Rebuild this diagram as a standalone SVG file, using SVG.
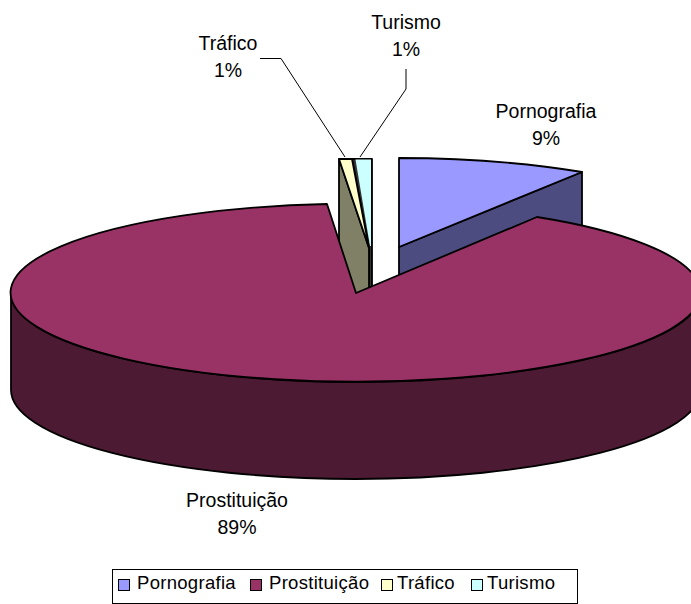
<svg xmlns="http://www.w3.org/2000/svg" width="691" height="604" viewBox="0 0 691 604">
  <style>
    .edge { stroke: #000; stroke-width: 1.8; stroke-linejoin: round; }
    .lbl { font-family: "Liberation Sans", Arial, sans-serif; font-size: 19.5px; fill: #000; text-anchor: middle; }
    .leg { font-family: "Liberation Sans", Arial, sans-serif; font-size: 18.5px; letter-spacing: 0.3px; fill: #000; }
    .lead { stroke: #000; stroke-width: 1; fill: none; }
    .sw { stroke: #000; stroke-width: 1; }
  </style>
  <rect width="691" height="604" fill="#fff"/>

  <g id="pornografia">
    <polygon class="edge" fill="#4C4C80" points="399,247 582,172 582,270 399,345"/>
    <path class="edge" fill="#9999FF" d="M 399,247 L 399,158 A 345 89 0 0 1 582,172 Z"/>
  </g>

  <g id="turismo">
    <polygon class="edge" fill="#333" points="352,159 372,159 372,300 369,300 369,248"/>
    <polygon fill="#CCFFFF" points="355.5,159.5 371,159.5 371,246 370,246"/>
  </g>

  <g id="trafico">
    <polygon class="edge" fill="#808066" points="339,159 369,248 369,320 339,260"/>
    <polygon class="edge" fill="#FFFFCC" points="339,159 352,159 369,248"/>
  </g>

  <g id="prostituicao">
    <path class="edge" fill="#4D1A33" d="M 11,293 A 345 89 0 0 0 701,293 L 701,390 A 345 89 0 0 1 11,390 Z"/>
    <path class="edge" fill="#993366" d="M 356,293 L 327,204 A 345 89 0 1 0 537,217 Z"/>
  </g>

  <g id="connectors">
    <polyline class="lead" points="260,58.5 281,58.5 345,157"/>
    <polyline class="lead" points="406,69 406,89 360,157"/>
  </g>

  <g id="labels">
    <text class="lbl" x="546" y="118">Pornografia</text>
    <text class="lbl" x="546" y="145">9%</text>
    <text class="lbl" x="237" y="507">Prostituição</text>
    <text class="lbl" x="237" y="534">89%</text>
    <text class="lbl" x="228" y="50">Tráfico</text>
    <text class="lbl" x="228" y="77">1%</text>
    <text class="lbl" x="406" y="29">Turismo</text>
    <text class="lbl" x="406" y="56">1%</text>
  </g>

  <g id="legend">
    <rect x="112.5" y="569.5" width="465" height="34" fill="#fff" stroke="#000" stroke-width="1"/>
    <rect class="sw" x="118.5" y="579.5" width="11" height="11" fill="#9999FF"/>
    <text class="leg" x="137" y="589">Pornografia</text>
    <rect class="sw" x="250.5" y="579.5" width="11" height="11" fill="#993366"/>
    <text class="leg" x="269" y="589">Prostituição</text>
    <rect class="sw" x="381.5" y="579.5" width="11" height="11" fill="#FFFFCC"/>
    <text class="leg" x="397" y="589">Tráfico</text>
    <rect class="sw" x="471.5" y="579.5" width="11" height="11" fill="#CCFFFF"/>
    <text class="leg" x="487" y="589">Turismo</text>
  </g>
</svg>
